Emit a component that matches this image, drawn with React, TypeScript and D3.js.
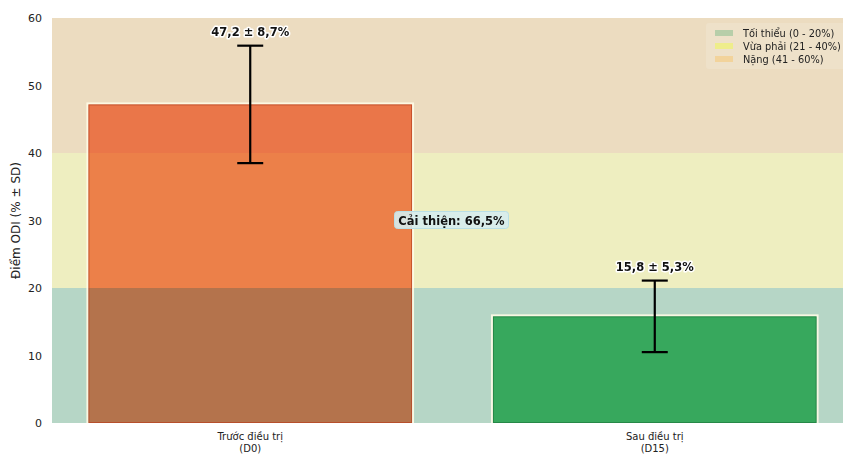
import React from "react";
import * as d3 from "d3";

const categories = ["Trước điều trị|(D0)", "Sau điều trị|(D15)"];
const means = [47.2, 15.8];
const sds = [8.7, 5.3];
const valueLabels = ["47,2 ± 8,7%", "15,8 ± 5,3%"];
const barColors = ["#fd8961", "#4cc877"];
const barEdges = ["#b8401f", "#1f7a3f"];
const zones = [
  { lo: 0, hi: 20, color: "#b6d6c6", legend: "Tối thiểu (0 - 20%)", patch: "#a9c9a1" },
  { lo: 20, hi: 40, color: "#eeeec0", legend: "Vừa phải (21 - 40%)", patch: "#eef07c" },
  { lo: 40, hi: 60, color: "#ecdcc0", legend: "Nặng (41 - 60%)", patch: "#f3cf90" },
];
const yTicks = [0, 10, 20, 30, 40, 50, 60];
const improvementLabel = "Cải thiện: 66,5%";
const yLabel = "Điểm ODI (% ± SD)";

const W = 843;
const H = 456;
const left = 52;
const right = 853;
const top = 18;
const bottom = 423;
const font = "DejaVu Sans, sans-serif";

export default function App() {
  const y = d3.scaleLinear().domain([0, 60]).range([bottom, top]);
  const x = d3
    .scaleBand<string>()
    .domain(categories)
    .range([left, right])
    .paddingInner(0.2)
    .paddingOuter(0.09);
  const bw = x.bandwidth();
  const midX = (x(categories[0])! + bw + x(categories[1])!) / 2;

  return (
    <svg
      width={W}
      height={H}
      style={{ position: "absolute", left: 0, top: 0, background: "#fff" }}
      fontFamily={font}
    >
      <defs>
        <clipPath id="clip">
          <rect x={0} y={0} width={W} height={bottom} />
        </clipPath>
      </defs>
      <g clipPath="url(#clip)">
        {zones.map((z, i) => (
          <rect
            key={i}
            x={left}
            width={right - left}
            y={y(z.hi)}
            height={y(z.lo) - y(z.hi)}
            fill={z.color}
          />
        ))}
        {categories.map((c, i) => (
          <g key={c}>
            <rect
              x={x(c)}
              width={bw}
              y={y(means[i])}
              height={y(0) - y(means[i])}
              fill={barColors[i]}
              style={{ mixBlendMode: "multiply" }}
            />
            <rect
              x={x(c)! - 1}
              width={bw + 2}
              y={y(means[i]) - 1}
              height={y(0) - y(means[i]) + 2}
              fill="none"
              stroke="#fffbe6"
              strokeOpacity={0.9}
              strokeWidth={2}
            />
            <rect
              x={x(c)! + 0.5}
              width={bw - 1}
              y={y(means[i]) + 0.5}
              height={y(0) - y(means[i]) - 1}
              fill="none"
              stroke={barEdges[i]}
              strokeOpacity={0.7}
              strokeWidth={1}
            />
          </g>
        ))}
        {categories.map((c, i) => {
          const cx = x(c)! + bw / 2;
          const hiY = y(means[i] + sds[i]);
          const loY = y(means[i] - sds[i]);
          return (
            <g key={"e" + c} stroke="#000" strokeWidth={2.2}>
              <line x1={cx} x2={cx} y1={hiY} y2={loY} />
              <line x1={cx - 13} x2={cx + 13} y1={hiY} y2={hiY} />
              <line x1={cx - 13} x2={cx + 13} y1={loY} y2={loY} />
            </g>
          );
        })}
        {categories.map((c, i) => {
          const cx = x(c)! + bw / 2;
          const ty = y(means[i] + sds[i]) - 10;
          return (
            <text
              key={"l" + c}
              x={cx}
              y={ty}
              textAnchor="middle"
              fontSize={11.5}
              fontWeight="bold"
              stroke="#fff"
              strokeWidth={3}
              paintOrder="stroke"
              strokeLinejoin="round"
              fill="#111"
            >
              {valueLabels[i]}
            </text>
          );
        })}
        <g>
          <rect
            x={midX - 58}
            y={y(30) - 9}
            width={114}
            height={17}
            rx={3}
            fill="#d6ecee"
            fillOpacity={0.9}
            stroke="#b9dfe6"
          />
          <text
            x={midX - 1}
            y={y(30) + 4}
            textAnchor="middle"
            fontSize={11.5}
            fontWeight="bold"
            fill="#111"
          >
            {improvementLabel}
          </text>
        </g>
        <g>
          <rect x={706} y={23} width={150} height={46} fill="#fff" fillOpacity={0.15} rx={3} />
          {zones.map((z, i) => (
            <g key={"lg" + i} transform={`translate(0, ${33 + i * 13})`}>
              <rect x={715} y={-3} width={18} height={6} fill={z.patch} fillOpacity={0.8} />
              <text x={743} y={3.5} fontSize={9.8} fill="#222">
                {z.legend}
              </text>
            </g>
          ))}
        </g>
      </g>
      {yTicks.map((t) => (
        <text
          key={t}
          x={42}
          y={y(t) + 4}
          textAnchor="end"
          fontSize={11}
          fill="#222"
        >
          {t}
        </text>
      ))}
      <text
        transform={`translate(20, ${(top + bottom) / 2}) rotate(-90)`}
        textAnchor="middle"
        fontSize={12}
        fill="#222"
      >
        {yLabel}
      </text>
      {categories.map((c) => {
        const cx = x(c)! + bw / 2;
        const [l1, l2] = c.split("|");
        return (
          <text key={"x" + c} x={cx} y={440} textAnchor="middle" fontSize={10} fill="#222">
            <tspan x={cx}>{l1}</tspan>
            <tspan x={cx} dy={12}>
              {l2}
            </tspan>
          </text>
        );
      })}
    </svg>
  );
}
